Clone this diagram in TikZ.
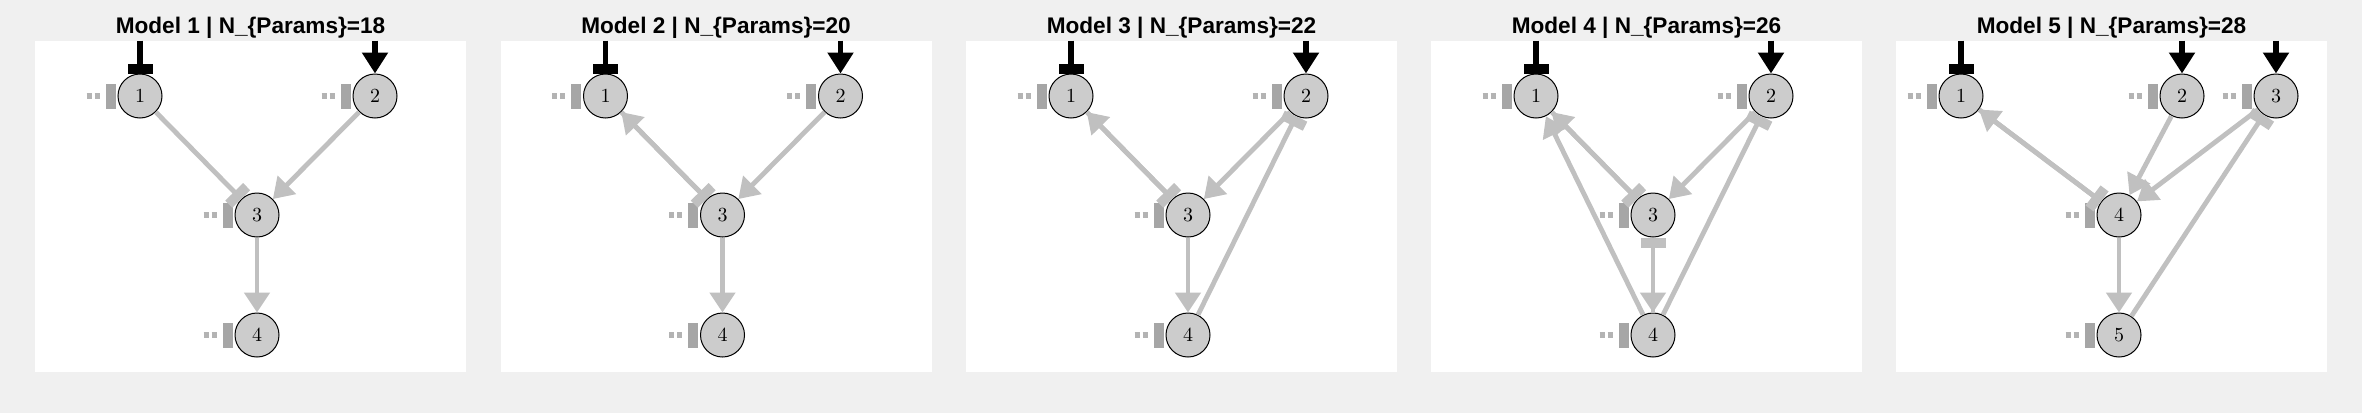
\documentclass[tikz,border=0pt]{standalone}
\usepackage{fontspec}
\setsansfont{Liberation Sans}
\usepackage{tikz}
\usetikzlibrary{arrows.meta,positioning,backgrounds}

\definecolor{figbg}{HTML}{F0F0F0}
\definecolor{nodefill}{HTML}{CCCCCC}
\definecolor{edgegray}{HTML}{C0C0C0}
\definecolor{selfgray}{HTML}{A6A6A6}
\definecolor{dotgray}{HTML}{B3B3B3}

\begin{document}
\begin{tikzpicture}[x=0.5pt,y=-0.5pt,
                    gene/.style={circle,draw=black,line width=0.5pt,fill=nodefill,minimum size=22pt,inner sep=0pt},
                    title/.style={anchor=base,font=\sffamily\bfseries\fontsize{11.3}{13}\selectfont},
                    act/.style={draw=edgegray,line width=2.4pt,-{Triangle[width=12.5pt,length=10pt]}},
                    rep/.style={draw=edgegray,line width=2.4pt,-{Rectangle[width=12.5pt,length=5pt]}},
                    inact/.style={draw=black,line width=2.8pt,-{Triangle[width=12.5pt,length=10.5pt]}},
                    inrep/.style={draw=black,line width=2.8pt,-{Rectangle[width=12.5pt,length=5pt]}},
                    self/.style={draw=dotgray,line width=2.6pt,dash pattern=on 2.5pt off 1.5pt on 2.5pt off 20pt,
                                 shorten >=1pt,-{Rectangle[width=12.5pt,length=5pt,color=selfgray]}}]
  \useasboundingbox (0,0) rectangle (2362,413);
  \fill[figbg] (0,0) rectangle (2362,413);

  % Model 1
  \begin{scope}[shift={(35,0)}]
    \fill[white] (0,41) rectangle (431,372);
    \node[title] (t1) at (215.5,33) {Model 1 | N\_\{Params\}=18};
    \node[gene] (m1g1) at (105,96)  {$1$};
    \node[gene] (m1g2) at (340,96)  {$2$};
    \node[gene] (m1g3) at (222,215) {$3$};
    \node[gene] (m1g4) at (222,335) {$4$};
    \foreach \i in {1,...,4} {
      \coordinate[left=15.5pt of m1g\i] (m1s\i);
      \draw[self] (m1s\i) -- (m1g\i);
    }
    \coordinate[above=16.5pt of m1g1] (m1i1);
    \coordinate[above=16.5pt of m1g2] (m1i2);
    \path (m1i1) edge[inrep] (m1g1);
    \path (m1i2) edge[inact] (m1g2);
    \path (m1g1) edge[rep] (m1g3);
    \path (m1g2) edge[act] (m1g3);
    \path (m1g3) edge[act] (m1g4);
  \end{scope}

  % Model 2
  \begin{scope}[shift={(500.5,0)}]
    \fill[white] (0,41) rectangle (431,372);
    \node[title] (t2) at (215.5,33) {Model 2 | N\_\{Params\}=20};
    \node[gene] (m2g1) at (105,96)  {$1$};
    \node[gene] (m2g2) at (340,96)  {$2$};
    \node[gene] (m2g3) at (222,215) {$3$};
    \node[gene] (m2g4) at (222,335) {$4$};
    \foreach \i in {1,...,4} {
      \coordinate[left=15.5pt of m2g\i] (m2s\i);
      \draw[self] (m2s\i) -- (m2g\i);
    }
    \coordinate[above=16.5pt of m2g1] (m2i1);
    \coordinate[above=16.5pt of m2g2] (m2i2);
    \path (m2i1) edge[inrep] (m2g1);
    \path (m2i2) edge[inact] (m2g2);
    \path (m2g1) edge[rep] (m2g3);
    \path (m2g3) edge[act] (m2g1);
    \path (m2g2) edge[act] (m2g3);
    \path (m2g3) edge[act] (m2g4);
  \end{scope}

  % Model 3
  \begin{scope}[shift={(966,0)}]
    \fill[white] (0,41) rectangle (431,372);
    \node[title] (t3) at (215.5,33) {Model 3 | N\_\{Params\}=22};
    \node[gene] (m3g1) at (105,96)  {$1$};
    \node[gene] (m3g2) at (340,96)  {$2$};
    \node[gene] (m3g3) at (222,215) {$3$};
    \node[gene] (m3g4) at (222,335) {$4$};
    \foreach \i in {1,...,4} {
      \coordinate[left=15.5pt of m3g\i] (m3s\i);
      \draw[self] (m3s\i) -- (m3g\i);
    }
    \coordinate[above=16.5pt of m3g1] (m3i1);
    \coordinate[above=16.5pt of m3g2] (m3i2);
    \path (m3i1) edge[inrep] (m3g1);
    \path (m3i2) edge[inact] (m3g2);
    \path (m3g1) edge[rep] (m3g3);
    \path (m3g3) edge[act] (m3g1);
    \path (m3g2) edge[act] (m3g3);
    \path (m3g4) edge[rep] (m3g2);
    \path (m3g3) edge[act] (m3g4);
  \end{scope}

  % Model 4
  \begin{scope}[shift={(1431,0)}]
    \fill[white] (0,41) rectangle (431,372);
    \node[title] (t4) at (215.5,33) {Model 4 | N\_\{Params\}=26};
    \node[gene] (m4g1) at (105,96)  {$1$};
    \node[gene] (m4g2) at (340,96)  {$2$};
    \node[gene] (m4g3) at (222,215) {$3$};
    \node[gene] (m4g4) at (222,335) {$4$};
    \foreach \i in {1,...,4} {
      \coordinate[left=15.5pt of m4g\i] (m4s\i);
      \draw[self] (m4s\i) -- (m4g\i);
    }
    \coordinate[above=16.5pt of m4g1] (m4i1);
    \coordinate[above=16.5pt of m4g2] (m4i2);
    \path (m4i1) edge[inrep] (m4g1);
    \path (m4i2) edge[inact] (m4g2);
    \path (m4g1) edge[rep] (m4g3);
    \path (m4g3) edge[act] (m4g1);
    \path (m4g4) edge[act] (m4g1);
    \path (m4g2) edge[act] (m4g3);
    \path (m4g4) edge[rep] (m4g2);
    \path (m4g4) edge[rep] (m4g3);
    \path (m4g3) edge[act] (m4g4);
  \end{scope}

  % Model 5
  \begin{scope}[shift={(1896,0)}]
    \fill[white] (0,41) rectangle (431,372);
    \node[title] (t5) at (215.5,33) {Model 5 | N\_\{Params\}=28};
    \node[gene] (m5g1) at (65,96)   {$1$};
    \node[gene] (m5g2) at (286,96)  {$2$};
    \node[gene] (m5g3) at (380,96)  {$3$};
    \node[gene] (m5g4) at (223,215) {$4$};
    \node[gene] (m5g5) at (223,335) {$5$};
    \foreach \i in {1,...,5} {
      \coordinate[left=15.5pt of m5g\i] (m5s\i);
      \draw[self] (m5s\i) -- (m5g\i);
    }
    \coordinate[above=16.5pt of m5g1] (m5i1);
    \coordinate[above=16.5pt of m5g2] (m5i2);
    \coordinate[above=16.5pt of m5g3] (m5i3);
    \path (m5i1) edge[inrep] (m5g1);
    \path (m5i2) edge[inact] (m5g2);
    \path (m5i3) edge[inact] (m5g3);
    \path (m5g1) edge[rep] (m5g4);
    \path (m5g4) edge[act] (m5g1);
    \path (m5g2) edge[act] (m5g4);
    \path (m5g3) edge[act] (m5g4);
    \path (m5g5) edge[rep] (m5g3);
    \path (m5g4) edge[act] (m5g5);
  \end{scope}
\end{tikzpicture}
\end{document}
